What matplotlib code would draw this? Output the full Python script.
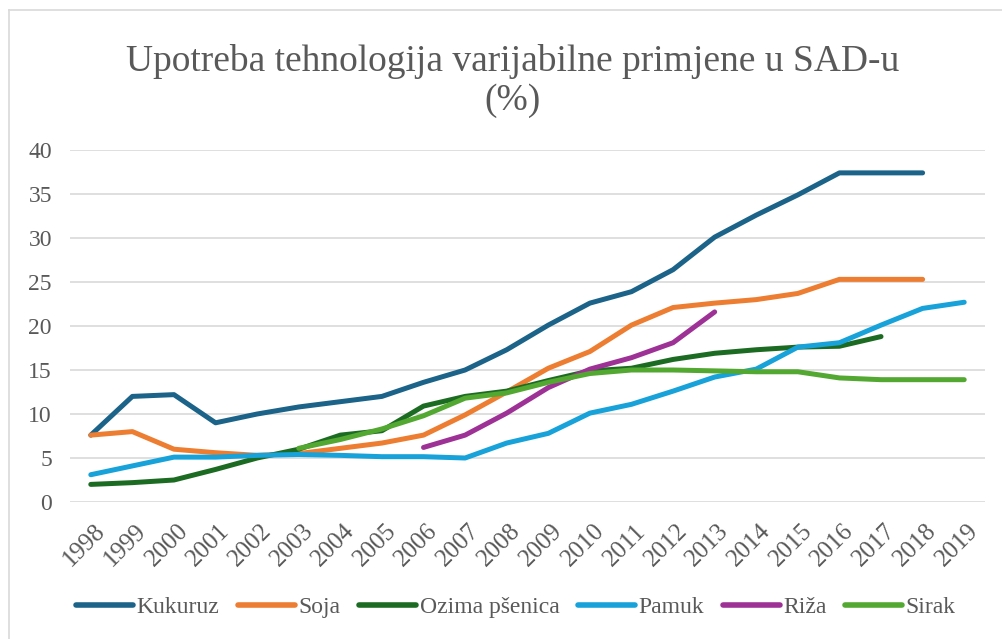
import numpy as np
import matplotlib
matplotlib.use("Agg")
import matplotlib.pyplot as plt
from matplotlib.lines import Line2D
from matplotlib.transforms import ScaledTranslation
from matplotlib.font_manager import FontProperties

nan = np.nan
years = [str(y) for y in range(1998, 2020)]

kukuruz = [7.6, 12.0, 12.2, 9.0, 10.0, 10.8, 11.4, 12.0, 13.6, 15.0, 17.3, 20.1,
           22.6, 23.9, 26.4, 30.1, 32.6, 34.9, 37.4, 37.4, 37.4, nan]
soja = [7.6, 8.0, 6.0, 5.6, 5.3, 5.5, 6.1, 6.7, 7.6, 9.9, 12.5, 15.2,
        17.1, 20.1, 22.1, 22.6, 23.0, 23.7, 25.3, 25.3, 25.3, nan]
ozima = [2.0, 2.2, 2.5, 3.7, 5.0, 6.0, 7.6, 8.1, 10.9, 12.0, 12.6, 13.8,
         14.9, 15.2, 16.2, 16.9, 17.3, 17.6, 17.7, 18.8, nan, nan]
pamuk = [3.1, 4.1, 5.1, 5.1, 5.3, 5.4, 5.3, 5.15, 5.15, 5.0, 6.7, 7.8,
         10.1, 11.1, 12.6, 14.2, 15.1, 17.6, 18.1, 20.1, 22.0, 22.7]
riza = [nan, nan, nan, nan, nan, nan, nan, nan, 6.2, 7.6, 10.1, 13.0,
        15.1, 16.4, 18.1, 21.6, nan, nan, nan, nan, nan, nan]
sirak = [nan, nan, nan, nan, nan, 6.1, 7.1, 8.3, 9.8, 11.8, 12.4, 13.6,
         14.6, 15.0, 15.0, 14.9, 14.8, 14.8, 14.1, 13.9, 13.9, 13.9]

series_names = ["Kukuruz", "Soja", "Ozima pšenica", "Pamuk", "Riža", "Sirak"]
series_values = [kukuruz, soja, ozima, pamuk, riza, sirak]
colors = ["#1B6388", "#ED7D31", "#1C6B22", "#18A2DA", "#9E3196", "#52A830"]

title = "Upotreba tehnologija varijabilne primjene u SAD-u\n(%)"
yticks = [0, 5, 10, 15, 20, 25, 30, 35, 40]

FAM = ['Liberation Serif', 'DejaVu Serif']
plt.rcParams['font.family'] = FAM
text_color = "#595959"

W, H = 1002, 639
fig = plt.figure(figsize=(W / 100, H / 100), dpi=100)
ax = fig.add_axes([70 / W, 1 - 502 / H, (985 - 70) / W, (502 - 150) / H])

x = np.arange(len(years))
for name, vals, c in zip(series_names, series_values, colors):
    ax.plot(x, vals, color=c, lw=3.6, solid_capstyle='round',
            solid_joinstyle='round', label=name)

ax.set_xlim(-0.5, len(years) - 0.5)
ax.set_ylim(0, 40)
ax.set_yticks(yticks)
ax.set_yticklabels([str(t) for t in yticks], family=FAM, fontsize=17, color=text_color)
ax.set_xticks(x)
ax.set_xticklabels(years, family=FAM, fontsize=18, color=text_color)
ax.grid(axis='y', color='#D9D9D9', lw=1.2)
ax.set_axisbelow(True)
for s in ax.spines.values():
    s.set_visible(False)
ax.tick_params(axis='y', length=0, pad=13)
ax.tick_params(axis='x', length=0, pad=13)
for lab in ax.get_xticklabels():
    lab.set_rotation(45)
    lab.set_ha('right')
    lab.set_va('top')
    lab.set_rotation_mode('anchor')
    lab.set_transform(lab.get_transform() + ScaledTranslation(3 / 100, 0, fig.dpi_scale_trans))

fig.text(513 / W, 1 - 81 / H, title, ha='center', va='center', fontsize=27,
         color=text_color, linespacing=1.15, family=FAM)

handles = [Line2D([0], [0], color=c, lw=4.0, solid_capstyle='round') for c in colors]
fig.legend(handles, series_names, loc='center', bbox_to_anchor=(516 / W, 1 - 607 / H),
           ncol=6, frameon=False, prop=FontProperties(family=FAM, size=17),
           labelcolor=text_color,
           handlelength=2.4, handletextpad=0.15, columnspacing=0.8)

# chart-area border (left and top visible; right/bottom cropped)
bc = '#D9D9D9'
fig.add_artist(Line2D([9 / W, 9 / W], [0, 1 - 10 / H], transform=fig.transFigure, color=bc, lw=1.2))
fig.add_artist(Line2D([9 / W, 1], [1 - 10 / H, 1 - 10 / H], transform=fig.transFigure, color=bc, lw=1.2))

fig.savefig("out.png", dpi=100)
